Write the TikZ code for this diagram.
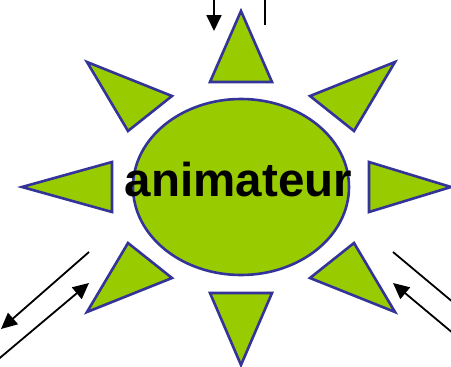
\documentclass[tikz,border=0pt]{standalone}
\usepackage{fontspec}
\setmainfont{Liberation Sans}
\usetikzlibrary{arrows.meta}
\definecolor{ray}{HTML}{99CC00}
\definecolor{rim}{HTML}{333399}
\tikzset{
  raytri/.style={fill=ray,draw=rim,line width=2.6pt,line join=miter},
  arr/.style={line width=1.8pt,-{Triangle[length=16pt,width=15pt]}},
  plain/.style={line width=1.8pt}
}
\begin{document}
\begin{tikzpicture}[x=1pt,y=-1pt]
\useasboundingbox (0,0) rectangle (451,367);
\clip (0,0) rectangle (451,367);
% ellipse
\draw[raytri] (241,187) ellipse [x radius=108, y radius=88];
% rays
\draw[raytri] (241,11) -- (210,82) -- (272,82) -- cycle;
\draw[raytri] (241,365) -- (210,293) -- (272,293) -- cycle;
\draw[raytri] (22,187) -- (112,162) -- (112,212) -- cycle;
\draw[raytri] (451,187) -- (369,162) -- (369,212) -- cycle;
\draw[raytri] (87,62) -- (172,96) -- (128,131) -- cycle;
\draw[raytri] (395,62) -- (310,96) -- (354,131) -- cycle;
\draw[raytri] (87,312) -- (172,278) -- (128,243) -- cycle;
\draw[raytri] (395,312) -- (310,278) -- (354,243) -- cycle;
% label
\node[anchor=base,inner sep=0pt,font=\bfseries\fontsize{47.5}{50}\selectfont] (lab) at (238.5,196) {animateur};
% connectors
\coordinate (t1a) at (214,-2);
\coordinate (t1b) at (214,31);
\coordinate (t2a) at (265,-2);
\coordinate (t2b) at (265,25);
\draw[arr] (t1a) -- (t1b);
\draw[plain] (t2a) -- (t2b);
\coordinate (l1a) at (89,252);
\coordinate (l1b) at (1,329);
\coordinate (l2a) at (-5,362);
\coordinate (l2b) at (89,283);
\draw[arr] (l1a) -- (l1b);
\draw[arr] (l2a) -- (l2b);
\coordinate (r1a) at (393,252);
\coordinate (r1b) at (460,308);
\coordinate (r2a) at (460,339);
\coordinate (r2b) at (393,283);
\draw[plain] (r1a) -- (r1b);
\draw[arr] (r2a) -- (r2b);
\end{tikzpicture}
\end{document}
